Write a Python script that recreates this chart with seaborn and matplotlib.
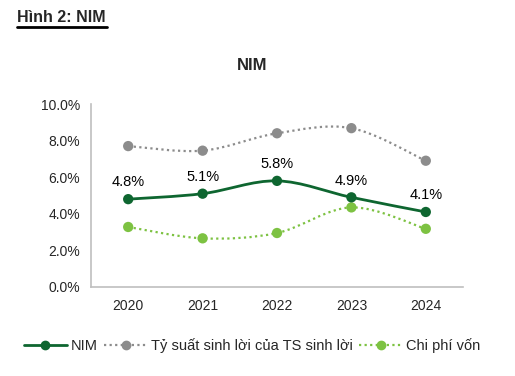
import numpy as np
import pandas as pd
import seaborn as sns
import matplotlib.pyplot as plt
from matplotlib.path import Path
from matplotlib.patches import PathPatch
from matplotlib.lines import Line2D

# Data
years = ['2020', '2021', '2022', '2023', '2024']
nim = [4.8, 5.1, 5.8, 4.9, 4.1]
ty_suat = [7.7, 7.45, 8.4, 8.68, 6.9]
chi_phi = [3.28, 2.66, 2.95, 4.35, 3.18]

sns.set_style('white')
plt.rcParams['font.family'] = ['Liberation Sans', 'DejaVu Sans']

fig = plt.figure(figsize=(5.15, 3.76), dpi=100)
ax = fig.add_axes([91 / 515, 1 - 287 / 376, (463 - 91) / 515, (287 - 104) / 376])

c_nim = '#0e6630'
c_gray = '#8c8c8c'
c_light = '#7dc242'


def smooth_path(xs, ys):
    # Catmull-Rom style bezier, like Excel smoothed lines
    pts = np.column_stack([xs, ys]).astype(float)
    n = len(pts)
    verts = [pts[0]]
    codes = [Path.MOVETO]
    for i in range(n - 1):
        p0 = pts[i - 1] if i > 0 else pts[i]
        p1 = pts[i]
        p2 = pts[i + 1]
        p3 = pts[i + 2] if i + 2 < n else pts[i + 1]
        verts += [p1 + (p2 - p0) / 6, p2 - (p3 - p1) / 6, p2]
        codes += [Path.CURVE4] * 3
    return Path(verts, codes)


x = np.arange(len(years))
series = [
    (ty_suat, c_gray, (0, (1, 1.5)), 1.6),
    (chi_phi, c_light, (0, (1, 1.5)), 1.6),
    (nim, c_nim, '-', 2.0),
]
for vals, col, ls, lw in series:
    ax.add_patch(PathPatch(smooth_path(x, vals), fill=False, edgecolor=col,
                           lw=lw, linestyle=ls, zorder=2))
    df = pd.DataFrame({'x': x, 'y': vals})
    sns.scatterplot(data=df, x='x', y='y', ax=ax, color=col, s=55,
                    edgecolor='none', zorder=3, legend=False)

for xi, v in zip(x, nim):
    ax.annotate(f'{v:.1f}%', (xi, v), xytext=(0, 7), textcoords='offset points',
                ha='center', va='bottom', fontsize=10.5, color='black')

ax.set_xlim(-0.5, len(years) - 0.5)
ax.set_ylim(0, 10)
ax.set_yticks(np.arange(0, 10.1, 2))
ax.set_yticklabels([f'{t:.1f}%' for t in np.arange(0, 10.1, 2)])
ax.set_xticks(x)
ax.set_xticklabels(years)
ax.set_xticks(np.arange(-0.5, len(years)), minor=True)
ax.tick_params(axis='x', which='major', length=0, pad=9, labelsize=10)
ax.tick_params(axis='x', which='minor', length=4, color='#bfbfbf', direction='out')
ax.tick_params(axis='y', length=4, color='#bfbfbf', direction='out', pad=4, labelsize=10)
ax.set_xlabel('')
ax.set_ylabel('')
for s in ['top', 'right']:
    ax.spines[s].set_visible(False)
for s in ['left', 'bottom']:
    ax.spines[s].set_color('#bfbfbf')
    ax.spines[s].set_linewidth(1.2)

fig.text(17 / 515, 1 - 18 / 376, 'Hình 2: NIM', fontsize=11.5, fontweight='bold',
         va='center', ha='left')
fig.add_artist(Line2D([17 / 515, 107 / 515], [1 - 27 / 376, 1 - 27 / 376],
                      color='black', lw=2, transform=fig.transFigure))
fig.text(252 / 515, 1 - 66 / 376, 'NIM', fontsize=12, fontweight='bold',
         va='center', ha='center')

handles = [
    Line2D([], [], color=c_nim, lw=2, marker='o', ms=6),
    Line2D([], [], color=c_gray, lw=1.6, ls=(0, (1, 1.5)), marker='o', ms=6),
    Line2D([], [], color=c_light, lw=1.6, ls=(0, (1, 1.5)), marker='o', ms=6),
]
labels = ['NIM', 'Tỷ suất sinh lời của TS sinh lời', 'Chi phí vốn']
fig.legend(handles, labels, loc='center', bbox_to_anchor=(252 / 515, 1 - 346 / 376),
           ncol=3, frameon=False, fontsize=10.5, handlelength=3.0,
           handletextpad=0.25, columnspacing=0.4)

fig.savefig('out.png', dpi=100)
